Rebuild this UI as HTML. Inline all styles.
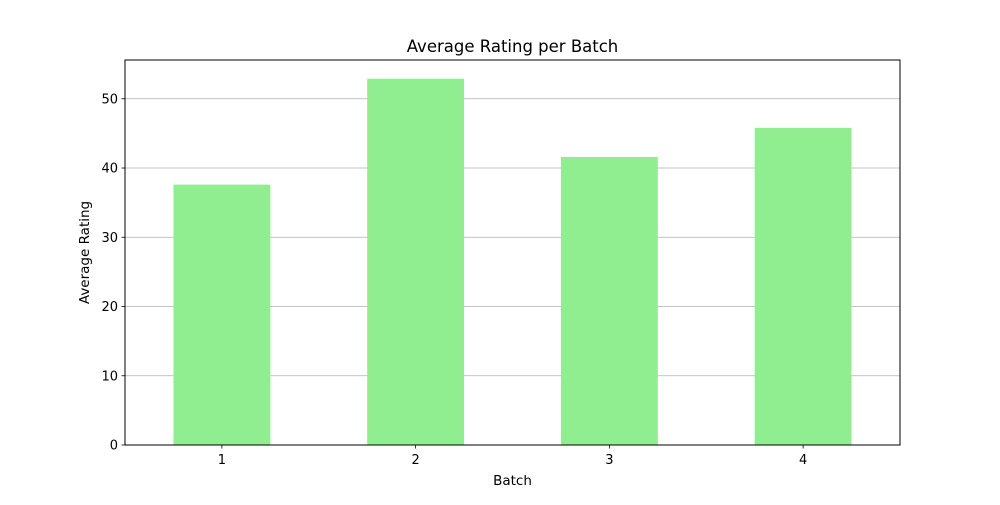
<!DOCTYPE html>
<html><head><meta charset="utf-8"><style>
body{margin:0;background:#fff;}
svg text{font-family:"DejaVu Sans","Liberation Sans",sans-serif;fill:#000;}
</style></head><body>
<svg id="chart" width="1000" height="500" xmlns="http://www.w3.org/2000/svg"></svg>
<script>
const categories = ["1","2","3","4"];
const values = [37.6, 52.9, 41.6, 45.8];
const yTicks = [0,10,20,30,40,50];
const L=125,R=900,T=60,B=445,yMax=55.6;
const ns="http://www.w3.org/2000/svg";
const svg=document.getElementById('chart');
function x(i){return L+(i+0.5)*(R-L)/categories.length;}
function y(v){return B-v/yMax*(B-T);}
function mk(tag,attrs,parent){const e=document.createElementNS(ns,tag);for(const k in attrs)e.setAttribute(k,attrs[k]);(parent||svg).appendChild(e);return e;}
const bw=0.5*(R-L)/categories.length;
yTicks.forEach(t=>{
  const g=mk('line',{x1:L,x2:R,y1:y(t),y2:y(t),stroke:'#b0b0b0','stroke-width':0.8});
  
  
});
values.forEach((v,i)=>{
  const r=mk('rect',{x:x(i)-bw/2,y:y(v),width:bw,height:B-y(v),fill:'#90ee90'});
  
  
});
const fr=mk('rect',{x:L,y:T,width:R-L,height:B-T,fill:'none',stroke:'#000','stroke-width':1});


yTicks.forEach(t=>{
  mk('line',{x1:L-3.5,x2:L,y1:y(t),y2:y(t),stroke:'#000','stroke-width':0.8});
  const tx=mk('text',{x:L-7,y:y(t)+4.5,'text-anchor':'end','font-size':13});
  tx.textContent=t;
  
  
});
categories.forEach((c,i)=>{
  mk('line',{x1:x(i),x2:x(i),y1:B,y2:B+3.5,stroke:'#000','stroke-width':0.8});
  const tx=mk('text',{x:x(i),y:B+19,'text-anchor':'middle','font-size':13});
  tx.textContent=c;
  
  
});
const title=mk('text',{x:(L+R)/2,y:52,'text-anchor':'middle','font-size':16.5});
title.textContent='Average Rating per Batch';


const xl=mk('text',{x:(L+R)/2,y:485,'text-anchor':'middle','font-size':13.5});
xl.textContent='Batch';


const yl=mk('text',{x:0,y:0,'text-anchor':'middle','font-size':13.5,transform:'translate(89,'+((T+B)/2)+') rotate(-90)'});
yl.textContent='Average Rating';


</script>
</body></html>
